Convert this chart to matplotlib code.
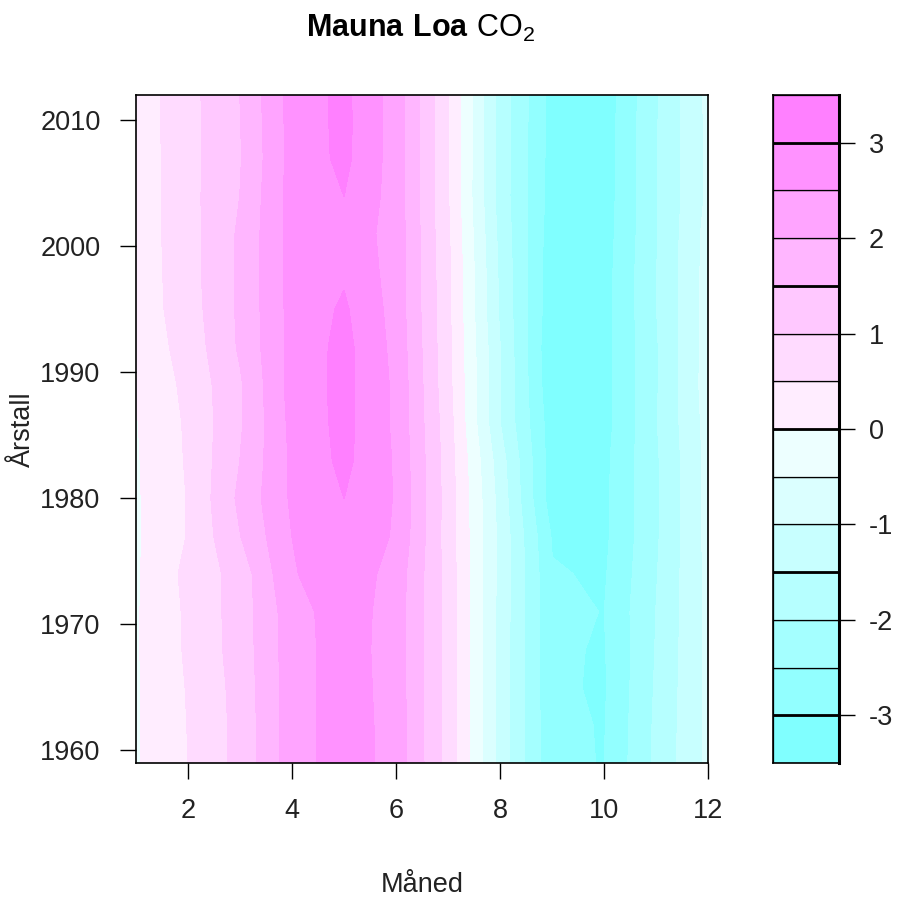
import numpy as np
import matplotlib
matplotlib.use("Agg")
from matplotlib import pyplot as plt

plt.rcParams['font.family'] = ['Liberation Sans', 'DejaVu Sans']
plt.rcParams['mathtext.fontset'] = 'custom'
plt.rcParams['mathtext.rm'] = 'Liberation Sans'
plt.rcParams['mathtext.bf'] = 'Liberation Sans:bold'
plt.rcParams['axes.unicode_minus'] = False

# ---- data: seasonal CO2 anomaly (ppm) per month ----
months = [1, 2, 3, 4, 5, 6, 7, 8, 9, 10, 11, 12]
years = [1959, 1962, 1965, 1968, 1971, 1974, 1977, 1980, 1983, 1986,
         1989, 1992, 1995, 1998, 2001, 2004, 2007, 2010, 2012]
anomaly = [
    [-0.05, 0.50, 1.15, 2.25, 2.78, 2.30, 0.80, -1.20, -2.90, -3.02, -1.90, -0.90],  # 1959
    [-0.05, 0.51, 1.15, 2.25, 2.78, 2.29, 0.80, -1.20, -2.89, -3.03, -1.92, -0.90],  # 1962
    [-0.05, 0.53, 1.17, 2.26, 2.77, 2.27, 0.80, -1.20, -2.92, -3.06, -1.95, -0.90],  # 1965
    [-0.05, 0.57, 1.21, 2.26, 2.76, 2.25, 0.80, -1.18, -2.93, -3.04, -1.98, -0.90],  # 1968
    [-0.05, 0.58, 1.22, 2.28, 2.78, 2.26, 0.80, -1.17, -2.92, -3.01, -2.00, -0.90],  # 1971
    [-0.07, 0.63, 1.20, 2.45, 2.85, 2.29, 0.80, -1.15, -2.96, -3.06, -2.04, -0.88],  # 1974
    [-0.06, 0.52, 1.48, 2.50, 2.90, 2.44, 0.76, -1.14, -3.05, -3.11, -2.08, -0.86],  # 1977
    [-0.06, 0.52, 1.60, 2.57, 3.00, 2.46, 0.77, -1.19, -3.28, -3.12, -2.08, -0.85],  # 1980
    [-0.05, 0.55, 1.50, 2.58, 3.12, 2.44, 0.75, -1.28, -3.26, -3.13, -2.08, -0.86],  # 1983
    [-0.03, 0.57, 1.43, 2.63, 3.15, 2.40, 0.71, -1.50, -3.28, -3.20, -2.04, -0.83],  # 1986
    [0.05, 0.62, 1.43, 2.68, 3.15, 2.40, 0.65, -1.48, -3.38, -3.20, -2.06, -0.78],   # 1989
    [0.15, 0.69, 1.56, 2.65, 3.15, 2.35, 0.63, -1.50, -3.42, -3.20, -2.06, -0.80],   # 1992
    [0.19, 0.76, 1.58, 2.66, 3.07, 2.31, 0.60, -1.58, -3.34, -3.21, -2.02, -0.82],   # 1995
    [0.18, 0.80, 1.57, 2.68, 2.93, 2.29, 0.60, -1.60, -3.33, -3.21, -2.02, -0.82],   # 1998
    [0.20, 0.80, 1.57, 2.68, 2.81, 2.30, 0.56, -1.65, -3.28, -3.24, -2.05, -0.83],   # 2001
    [0.18, 0.83, 1.50, 2.70, 3.00, 2.28, 0.52, -1.72, -3.22, -3.27, -2.04, -0.92],   # 2004
    [0.18, 0.83, 1.46, 2.66, 3.12, 2.27, 0.52, -1.71, -3.21, -3.28, -2.04, -0.91],   # 2007
    [0.20, 0.83, 1.48, 2.68, 3.13, 2.28, 0.53, -1.70, -3.20, -3.29, -2.05, -0.90],   # 2010
    [0.20, 0.83, 1.50, 2.70, 3.12, 2.27, 0.53, -1.70, -3.19, -3.30, -2.06, -0.88],   # 2012
]
levels = [-3.5, -3.0, -2.5, -2.0, -1.5, -1.0, -0.5, 0.0, 0.5, 1.0, 1.5, 2.0, 2.5, 3.0, 3.5]
key_ticks = [-3, -2, -1, 0, 1, 2, 3]
year_ticks = [1960, 1970, 1980, 1990, 2000, 2010]
month_ticks = [2, 4, 6, 8, 10, 12]


def cm_colors(n):
    # same as R's cm.colors(): cyan half then magenta half
    k = n // 2
    cyan = np.linspace(0.5, 0.5 / k, k)
    mag = np.linspace(0, 0.5, n - k + 1)[1:]
    cols = [(1 - s, 1.0, 1.0) for s in cyan] + [(1.0, 1 - s, 1.0) for s in mag]
    return [tuple(round(c * 255) / 255 for c in col) for col in cols]


cols = cm_colors(len(levels) - 1)
Z = np.array(anomaly)

W, H = 899, 897
fig = plt.figure(figsize=(W / 100, H / 100), dpi=100)
bot = 1 - 763 / H
hgt = (763 - 95) / H
ax = fig.add_axes([136 / W, bot, (708 - 136) / W, hgt])
cs = ax.contourf(months, years, Z, levels=levels, colors=cols)
cs.set_edgecolor("face")
cs.set_linewidth(0.4)
ax.set_xlim(1, 12)
ax.set_ylim(1959, 2012)
ax.set_xticks(month_ticks)
ax.set_yticks(year_ticks)
ax.tick_params(direction='out', length=11.5, width=1, pad=14, labelsize=19.5,
               colors='black', labelcolor='#222222')
for sp in ax.spines.values():
    sp.set_linewidth(1.2)

# colour key
axk = fig.add_axes([773 / W, bot, (839 - 773) / W, hgt])
for i in range(len(cols)):
    axk.bar(0.5, levels[i + 1] - levels[i], bottom=levels[i], width=1,
            color=cols[i], edgecolor='black', linewidth=0.9)
for v in [-3, -1.5, 0, 1.5, 3]:
    axk.axhline(v, color='black', lw=2.0)
axk.set_xlim(0, 1)
axk.set_ylim(levels[0], levels[-1])
axk.set_xticks([])
axk.yaxis.tick_right()
axk.set_yticks(key_ticks)
axk.tick_params(direction='out', length=11.5, width=1, pad=10, labelsize=19.5,
                colors='black', labelcolor='#222222')
for sp in axk.spines.values():
    sp.set_linewidth(1.2)
axk.spines['right'].set_linewidth(2.2)

fig.text(421 / W, 1 - 37 / H, r"$\mathbf{Mauna\ Loa\ }\mathrm{CO}_2$", fontsize=22,
         ha='center', va='baseline')
fig.text(422 / W, 1 - 892 / H, "Måned", fontsize=19.5, ha='center', va='baseline',
         color='#222222')
fig.text(23 / W, 1 - 429.5 / H, "Årstall", fontsize=19.5, rotation=90,
         ha='center', va='center', color='#222222')

fig.savefig("out.png", dpi=100)
